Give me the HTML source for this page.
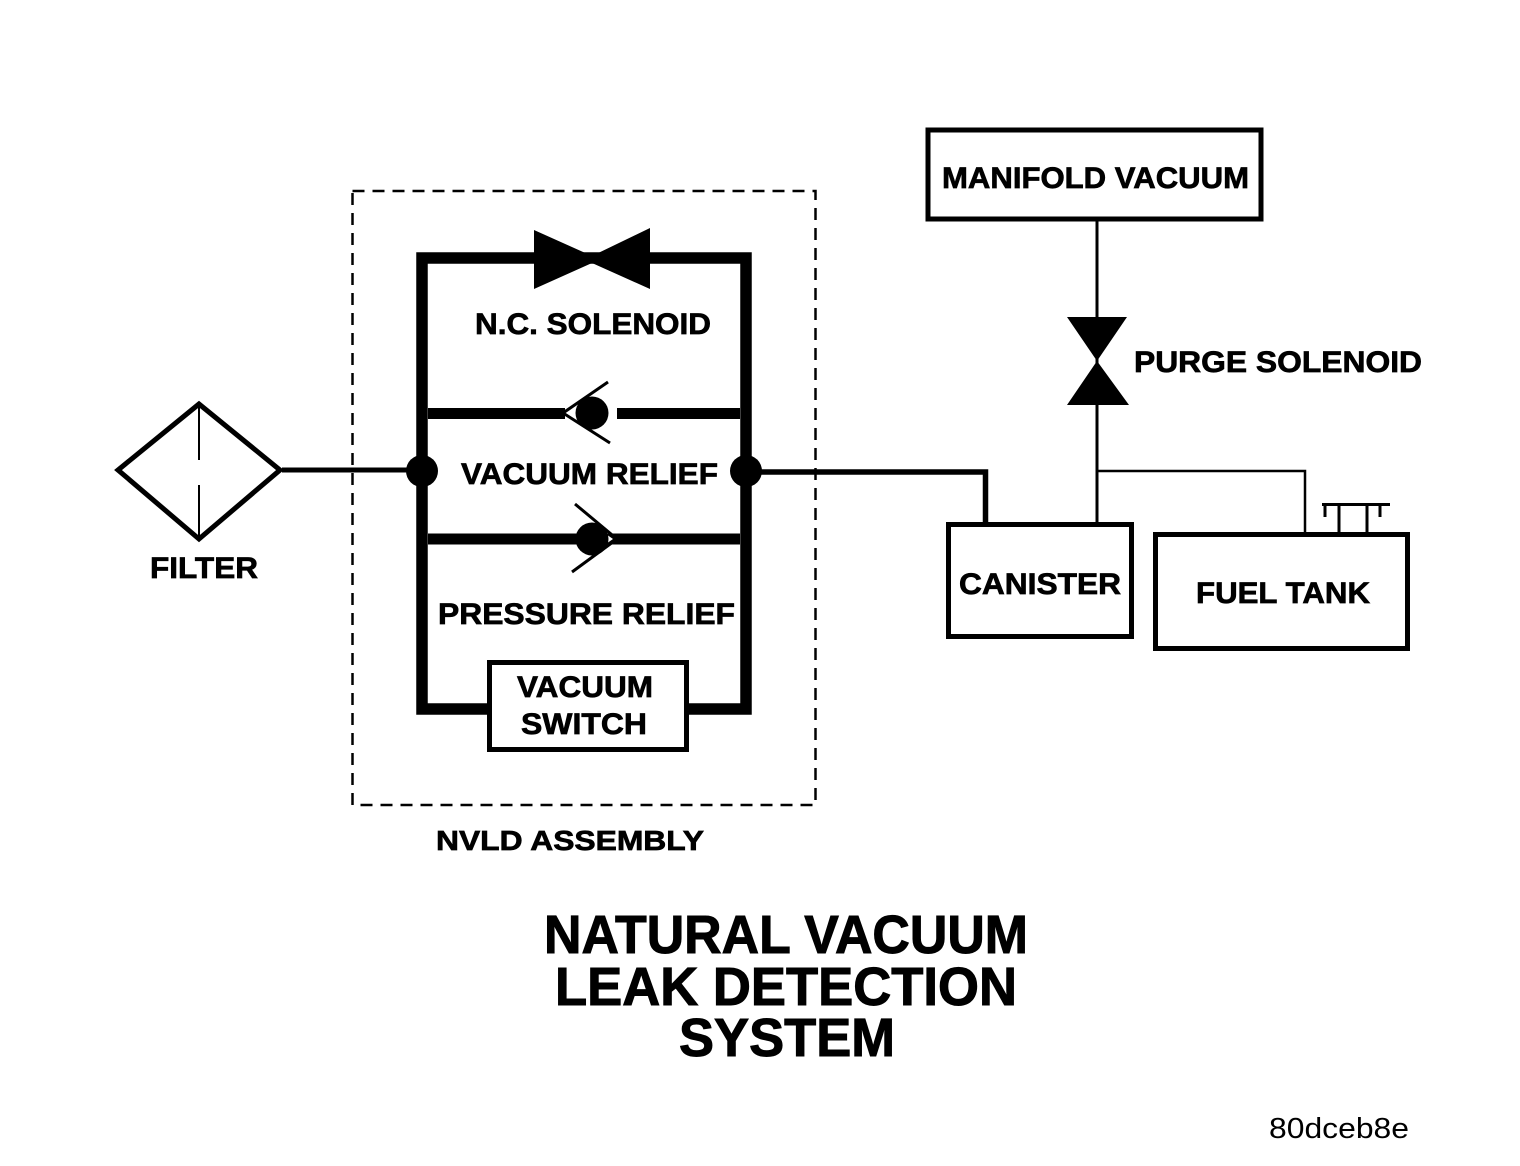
<!DOCTYPE html>
<html><head><meta charset="utf-8"><style>
html,body{margin:0;padding:0;background:#fff}
svg{display:block}
text{font-family:"Liberation Sans",sans-serif;font-weight:bold;fill:#000;stroke:#000;stroke-width:.7}
</style></head><body>
<svg width="1520" height="1166" viewBox="0 0 1520 1166" xmlns="http://www.w3.org/2000/svg">
<rect width="1520" height="1166" fill="#fff"/>
<rect x="352.5" y="191" width="463" height="614" fill="none" stroke="#000" stroke-width="2.5" stroke-dasharray="12 8"/>
<polygon points="199,404 118,470 199,539 280,470" fill="none" stroke="#000" stroke-width="5"/>
<path d="M199 404V460M199 485V539" stroke="#000" stroke-width="2" fill="none"/>
<path d="M282 470H410" stroke="#000" stroke-width="5" fill="none"/>
<path d="M487 709H422V258H746V709H689" fill="none" stroke="#000" stroke-width="11.5"/>
<polygon points="534,230 592,256 650,228 650,289 592,263 534,289" fill="#000"/>
<path d="M428 413.5H565M617 413.5H740M428 539H740" stroke="#000" stroke-width="11" fill="none"/>
<polygon points="603,532 613,539 603,546" fill="#fff"/>
<path d="M608 382L563 413L610 443" stroke="#000" stroke-width="3" fill="none"/>
<circle cx="592" cy="413" r="16.5" fill="#000"/>
<path d="M575 504L617 539L572 572" stroke="#000" stroke-width="3" fill="none"/>
<circle cx="592" cy="539" r="16.5" fill="#000"/>
<circle cx="422" cy="471" r="16" fill="#000"/>
<circle cx="746" cy="471" r="16" fill="#000"/>
<path d="M760 472H985.5V523" stroke="#000" stroke-width="5.5" fill="none"/>
<rect x="489.5" y="662.5" width="197" height="87" fill="#fff" stroke="#000" stroke-width="5"/>
<rect x="928" y="130" width="333" height="89" fill="none" stroke="#000" stroke-width="5"/>
<path d="M1097 220V522" stroke="#000" stroke-width="3" fill="none"/>
<polygon points="1067,317 1127,317 1097,361 1129,405 1067,405 1097,361" fill="#000"/>
<path d="M1097 471H1305V532" stroke="#000" stroke-width="2.5" fill="none"/>
<rect x="948.5" y="524.5" width="183" height="112" fill="none" stroke="#000" stroke-width="5"/>
<rect x="1155.5" y="534.5" width="252" height="114" fill="none" stroke="#000" stroke-width="5"/>
<path d="M1322 504.5H1390M1325 504V517M1380 504V517M1339 504V532M1367 504V532" stroke="#000" stroke-width="3" fill="none"/>
<text x="942" y="188" font-size="30" textLength="307" lengthAdjust="spacingAndGlyphs">MANIFOLD VACUUM</text>
<text x="1134" y="372" font-size="30" textLength="288" lengthAdjust="spacingAndGlyphs">PURGE SOLENOID</text>
<text x="475" y="334" font-size="30" textLength="236" lengthAdjust="spacingAndGlyphs">N.C. SOLENOID</text>
<text x="461" y="484" font-size="30" textLength="257" lengthAdjust="spacingAndGlyphs">VACUUM RELIEF</text>
<text x="438" y="624" font-size="30" textLength="297" lengthAdjust="spacingAndGlyphs">PRESSURE RELIEF</text>
<text x="517" y="697" font-size="30" textLength="136" lengthAdjust="spacingAndGlyphs">VACUUM</text>
<text x="521" y="734" font-size="30" textLength="126" lengthAdjust="spacingAndGlyphs">SWITCH</text>
<text x="150" y="578" font-size="30" textLength="108" lengthAdjust="spacingAndGlyphs">FILTER</text>
<text x="959" y="594" font-size="30" textLength="162" lengthAdjust="spacingAndGlyphs">CANISTER</text>
<text x="1196" y="603" font-size="30" textLength="174" lengthAdjust="spacingAndGlyphs">FUEL TANK</text>
<text x="436" y="850" font-size="28" textLength="268" lengthAdjust="spacingAndGlyphs">NVLD ASSEMBLY</text>
<text x="544" y="953" font-size="54" textLength="484" lengthAdjust="spacingAndGlyphs" style="stroke-width:1">NATURAL VACUUM</text>
<text x="555" y="1005" font-size="54" textLength="462" lengthAdjust="spacingAndGlyphs" style="stroke-width:1">LEAK DETECTION</text>
<text x="679" y="1056" font-size="54" textLength="216" lengthAdjust="spacingAndGlyphs" style="stroke-width:1">SYSTEM</text>
<text x="1269" y="1138" font-size="29" style="font-weight:normal;stroke-width:0" textLength="140" lengthAdjust="spacingAndGlyphs">80dceb8e</text>
</svg>
</body></html>
